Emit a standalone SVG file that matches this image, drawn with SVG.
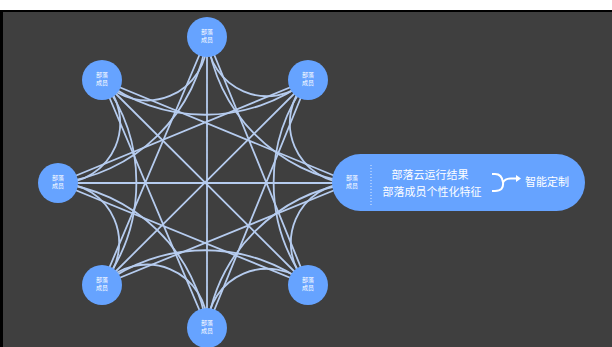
<svg xmlns="http://www.w3.org/2000/svg" width="612" height="347" viewBox="0 0 612 347">
<style>
.ln{fill:none;stroke:#b6ccef;stroke-width:1.8;stroke-linecap:round}
.nd{fill:#66a3ff}
.nt{font-family:"Noto Sans CJK SC","Noto Sans",sans-serif;font-size:6px;fill:#ffffff;text-anchor:middle}
.pt{font-family:"Noto Sans CJK SC","Noto Sans",sans-serif;font-size:11px;fill:#ffffff;text-anchor:middle}
</style>
<rect x="0" y="0" width="612" height="347" fill="#ffffff"/>
<rect x="0" y="10" width="612" height="337" fill="#000000"/>
<rect x="3" y="12" width="609" height="335" fill="#3f3f3f"/>
<g id="connectors">
<!-- straight lines between nodes three and four steps apart -->
<path class="ln" d="M207,37L308,285M207,37L207,328M207,37L102,285
M308,80L207,328M308,80L102,285M308,80L58,183
M352,183L102,285M352,183L58,183M352,183L102,80
M308,285L58,183M308,285L102,80
M207,328L102,80"/>
<!-- adjacent arcs -->
<path class="ln" d="M207,37A60,60 0 0 0 308,80M308,80A60,60 0 0 0 352,183M352,183A60,60 0 0 0 308,285M308,285A60,60 0 0 0 207,328M207,328A60,60 0 0 0 102,285M102,285A60,60 0 0 0 58,183M58,183A60,60 0 0 0 102,80M102,80A60,60 0 0 0 207,37"/>
<!-- skip-one arcs -->
<path class="ln" d="M207,37A170,170 0 0 0 352,183M308,80A170,170 0 0 0 308,285M352,183A170,170 0 0 0 207,328M308,285A170,170 0 0 0 102,285M207,328A170,170 0 0 0 58,183M102,285A170,170 0 0 0 102,80M58,183A170,170 0 0 0 207,37M102,80A170,170 0 0 0 308,80"/>
</g>
<g id="node-top"><circle class="nd" cx="207" cy="37" r="20"/><text class="nt" x="207" y="34">部落</text><text class="nt" x="207" y="42">成员</text></g>
<g id="node-top-right"><circle class="nd" cx="308" cy="80" r="20"/><text class="nt" x="308" y="77">部落</text><text class="nt" x="308" y="85">成员</text></g>
<g id="node-bottom-right"><circle class="nd" cx="308" cy="285" r="20"/><text class="nt" x="308" y="282">部落</text><text class="nt" x="308" y="290">成员</text></g>
<g id="node-bottom"><circle class="nd" cx="207" cy="328" r="20"/><text class="nt" x="207" y="325">部落</text><text class="nt" x="207" y="333">成员</text></g>
<g id="node-bottom-left"><circle class="nd" cx="102" cy="285" r="20"/><text class="nt" x="102" y="282">部落</text><text class="nt" x="102" y="290">成员</text></g>
<g id="node-left"><circle class="nd" cx="58" cy="183" r="20"/><text class="nt" x="58" y="180">部落</text><text class="nt" x="58" y="188">成员</text></g>
<g id="node-top-left"><circle class="nd" cx="102" cy="80" r="20"/><text class="nt" x="102" y="77">部落</text><text class="nt" x="102" y="85">成员</text></g>
<g id="node-right">
<rect x="332" y="154" width="253" height="57" rx="28.5" fill="#66a3ff"/>
<text class="nt" x="352" y="180">部落</text><text class="nt" x="352" y="188">成员</text>
<line x1="371" y1="165" x2="371" y2="206" stroke="#ffffff" stroke-width="1" stroke-dasharray="1,2" opacity="0.8"/>
<text class="pt" x="430" y="179">部落云运行结果</text>
<text class="pt" x="432" y="196">部落成员个性化特征</text>
<path d="M492,174h3q7,0 8,8.5q1,8.5 -8,8.5h-3M503,182.5q2,-4 8,-4h6" fill="none" stroke="#ffffff" stroke-width="2"/>
<path d="M516,175l5,3.5l-5,3.5z" fill="#ffffff"/>
<text class="pt" x="547" y="186">智能定制</text>
</g>
</svg>
